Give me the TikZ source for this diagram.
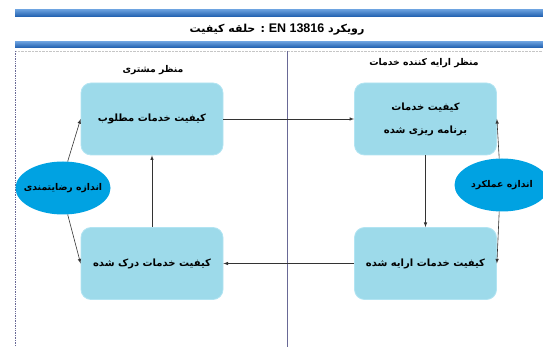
\documentclass[tikz,border=0pt]{standalone}
\usepackage{fontspec}
\setmainfont{Liberation Sans}
\newfontfamily\farsi[Script=Arabic]{DejaVu Sans}
\newfontfamily\latinfont{Liberation Sans}
\TeXXeTstate=1
\usetikzlibrary{shapes.geometric,positioning,calc}
\definecolor{boxblue}{RGB}{157,218,234}
\definecolor{boxedge}{RGB}{178,228,242}
\definecolor{ellblue}{RGB}{0,162,226}
\definecolor{barlight}{RGB}{100,155,218}
\definecolor{bardark}{RGB}{28,92,172}
\definecolor{divider}{RGB}{105,105,150}
\tikzset{
  quality box/.style={rectangle, rounded corners=10pt, fill=boxblue, draw=boxedge,
    line width=0.8pt, minimum width=142pt, minimum height=72pt, align=center,
    font=\farsi\bfseries\fontsize{10}{23}\selectfont},
  measure/.style={ellipse, fill=ellblue, minimum width=95pt, minimum height=53pt,
    inner xsep=-8pt, inner ysep=0pt, font=\farsi\bfseries\fontsize{9.3}{10}\selectfont},
  view label/.style={font=\farsi\bfseries\fontsize{9.3}{11}\selectfont},
  link/.style={draw=black!80, line width=0.6pt, -latex},
  title bar/.style={top color=barlight, bottom color=bardark, draw=none}
}

\begin{document}
\begin{tikzpicture}[x=1pt,y=-1pt]
  \useasboundingbox (0,0) rectangle (543,347);
  \clip (0,0) rectangle (543,347);

  % header bars and title
  \shade[title bar] (15,10) rectangle (543,17);
  \shade[title bar] (15,42) rectangle (543,48);
  \node (title) [font=\farsi\bfseries\fontsize{11}{13}\selectfont] at (277,29)
    {\beginR رویکرد \beginL{\latinfont\fontsize{12.5}{13}\selectfont EN 13816}\endL{} : حلقه کیفیت\endR};

  % frame
  \draw[gray!45, densely dotted] (15,51) -- (543,51);
  \draw[divider, densely dotted, line width=0.7pt] (15,51) -- (15,347);
  \draw[divider, line width=0.7pt] (287,51) -- (287,347);

  \node (customer_label) [view label] at (153,70) {\beginR منظر مشتری\endR};
  \node (provider_label) [view label] at (424,63) {\beginR منظر ارایه کننده خدمات\endR};

  % quality boxes
  \node (need_box) [quality box] at (152,119) {\beginR کیفیت خدمات مطلوب\endR};
  \node (planned_box) [quality box] at (425.5,119)
    {\beginR کیفیت خدمات\endR\\\beginR برنامه ریزی شده\endR};
  \node (perceived_box) [quality box] at (152,263.5) {\beginR کیفیت خدمات درک شده\endR};
  \node (delivered_box) [quality box] at (425.5,263.5) {\beginR کیفیت خدمات ارایه شده\endR};

  % measurements
  \node (satisfaction) [measure] at (63,188) {\beginR اندازه رضایتمندی\endR};
  \node (performance) [measure] at (502,185) {\beginR اندازه عملکرد\endR};

  % quality loop
  \draw[link] (need_box.east) -- (planned_box.west);
  \draw[link] (planned_box.south) -- (delivered_box.north);
  \draw[link] (delivered_box.west) -- (perceived_box.east);
  \draw[link] (perceived_box.north) -- (need_box.south);

  \draw[link] (satisfaction.80) -- (need_box.west);
  \draw[link] (satisfaction.-80) -- (perceived_box.west);
  \draw[link] (performance.96) -- (planned_box.east);
  \draw[link] (performance.-96) -- (delivered_box.east);
\end{tikzpicture}
\end{document}
